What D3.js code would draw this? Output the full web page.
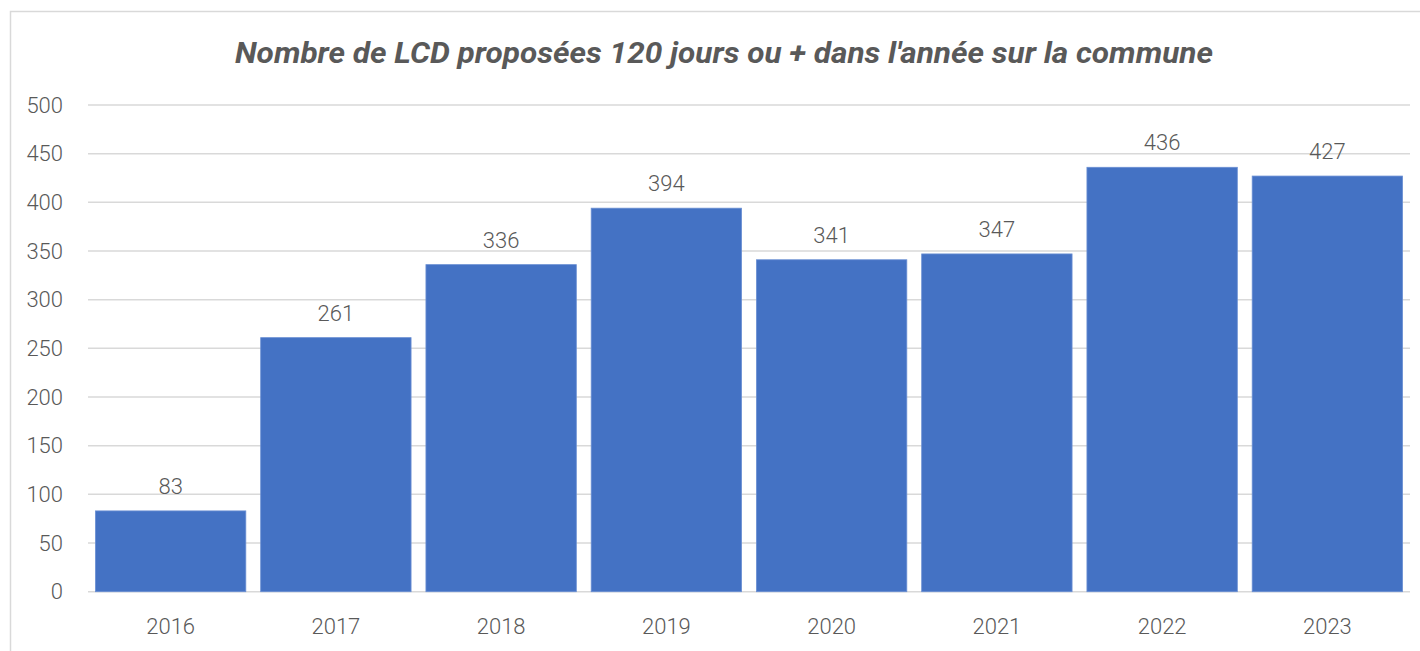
<!DOCTYPE html>
<html>
<head>
<meta charset="utf-8">
<script src="https://cdnjs.cloudflare.com/ajax/libs/d3/7.8.5/d3.min.js"></script>
<style>
  body { margin: 0; background: #fff; }
  svg { display: block; }
</style>
</head>
<body>
<div class="canvas"></div>
<script>
// data
const years = ['2016', '2017', '2018', '2019', '2020', '2021', '2022', '2023'];
const values = [83, 261, 336, 394, 341, 347, 436, 427];
const yTicks = [0, 50, 100, 150, 200, 250, 300, 350, 400, 450, 500];
const title = "Nombre de LCD proposées 120 jours ou + dans l'année sur la commune";

const W = 1420, H = 651;
const plot = {left: 88, right: 1410, top: 105, bottom: 591.7};

const svg = d3.select('.canvas')
    .append('svg')
    .attr('width', W)
    .attr('height', H);

// chart border (only top + left visible in the crop)
svg.append('path')
    .attr('d', `M10.5,${H} L10.5,11.5 L${W},11.5`)
    .attr('fill', 'none')
    .attr('stroke', '#d9d9d9')
    .attr('stroke-width', 1.5);

// title
svg.append('text')
    .attr('x', 724)
    .attr('y', 63)
    .attr('text-anchor', 'middle')
    .attr('font-family', 'Roboto, sans-serif')
    .attr('font-weight', 700)
    .attr('font-style', 'italic')
    .attr('font-size', 29)
    .attr('fill', '#595959')
    .attr('textLength', 978)
    .attr('lengthAdjust', 'spacingAndGlyphs')
    .text(title);

const x = d3.scaleBand()
    .domain(years)
    .range([plot.left, plot.right])
    .paddingInner(0.09)
    .paddingOuter(0.045);

const y = d3.scaleLinear()
    .domain([0, 500])
    .range([plot.bottom, plot.top]);

// gridlines
svg.append('g')
    .selectAll('line')
    .data(yTicks)
    .join('line')
    .attr('x1', plot.left)
    .attr('x2', plot.right)
    .attr('y1', d => y(d))
    .attr('y2', d => y(d))
    .attr('stroke', '#d9d9d9')
    .attr('stroke-width', 1.5);

// y axis labels
const yAxis = svg.append('g')
    .attr('transform', `translate(${plot.left - 25},0)`)
    .call(d3.axisLeft(y).tickValues(yTicks).tickSize(0).tickPadding(0));
yAxis.select('.domain').remove();
yAxis.selectAll('text')
    .attr('font-family', 'Roboto, sans-serif')
    .attr('font-weight', 300)
    .attr('font-size', 22)
    .attr('fill', '#595959');

// x axis labels
const xAxis = svg.append('g')
    .attr('transform', `translate(0,${plot.bottom})`)
    .call(d3.axisBottom(x).tickSize(0).tickPadding(27));
xAxis.select('.domain').remove();
xAxis.selectAll('text')
    .attr('font-family', 'Roboto, sans-serif')
    .attr('font-weight', 300)
    .attr('font-size', 22)
    .attr('fill', '#595959');

const data = years.map((yr, i) => ({year: yr, value: values[i]}));

// bars
svg.append('g')
    .selectAll('rect')
    .data(data)
    .join('rect')
    .attr('x', d => x(d.year))
    .attr('y', d => y(d.value))
    .attr('width', x.bandwidth())
    .attr('height', d => y(0) - y(d.value))
    .attr('fill', '#4472c4')
    .attr('stroke', '#6a8fd3')
    .attr('stroke-width', 0.8);

// value labels
svg.append('g')
    .selectAll('text')
    .data(data)
    .join('text')
    .attr('x', d => x(d.year) + x.bandwidth() / 2)
    .attr('y', d => y(d.value) - 17)
    .attr('text-anchor', 'middle')
    .attr('font-family', 'Roboto, sans-serif')
    .attr('font-weight', 300)
    .attr('font-size', 22)
    .attr('fill', '#595959')
    .text(d => d.value);
</script>
</body>
</html>
